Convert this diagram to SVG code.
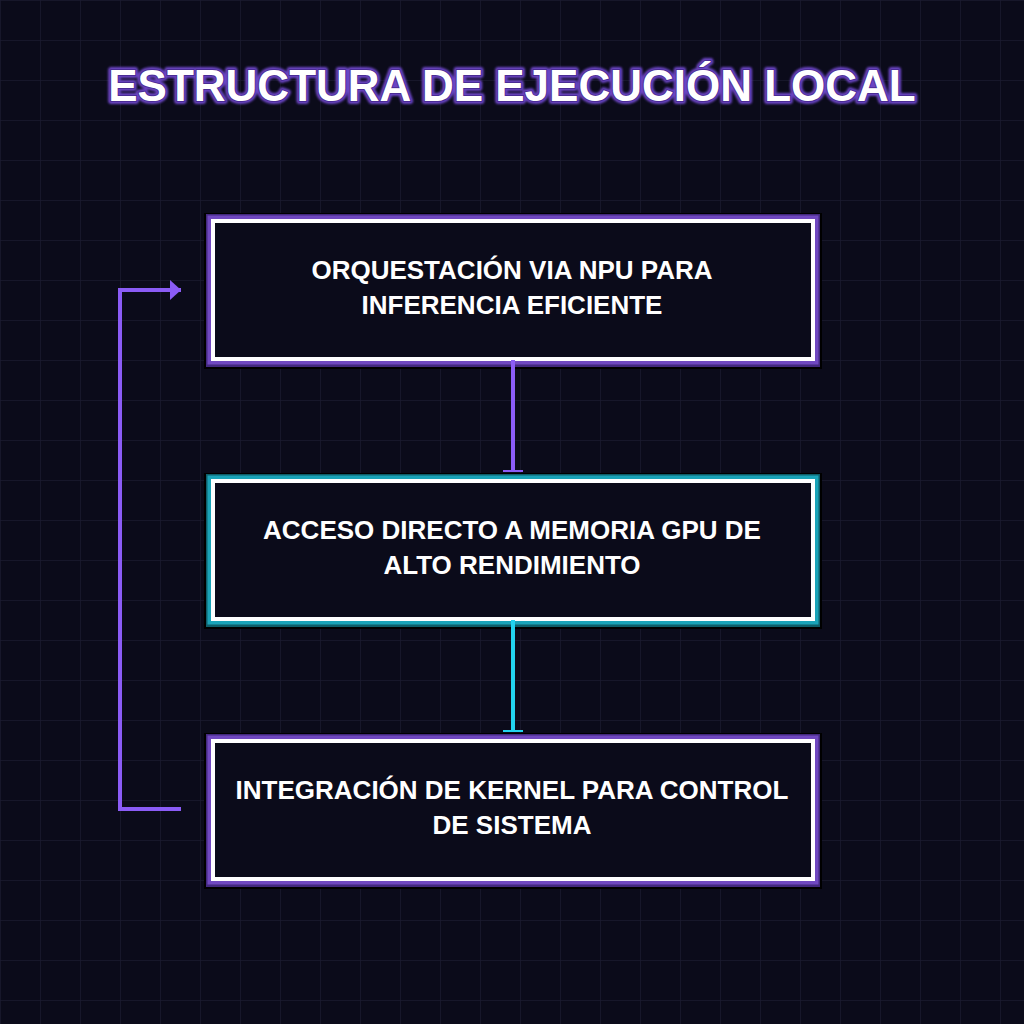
<svg xmlns="http://www.w3.org/2000/svg" width="1024" height="1024" viewBox="0 0 1024 1024">
  <defs>
    <pattern id="grid" width="40" height="40" patternUnits="userSpaceOnUse">
      <path d="M40 0H0V40" fill="none" stroke="#1a1a30" stroke-width="1.5"/>
    </pattern>
    <filter id="glow" x="-10%" y="-50%" width="120%" height="200%">
      <feGaussianBlur stdDeviation="1.2"/>
    </filter>
    <marker id="arrowP" markerWidth="12" markerHeight="20" refX="11" refY="10" orient="auto" markerUnits="userSpaceOnUse">
      <path d="M0 0L11 10L0 20Z" fill="#8b5cf6"/>
    </marker>
  </defs>
  <style>
    .bg{fill:#0b0b1a}
    .shadow{fill:none;stroke:#000;stroke-width:16}
    .glow-dark{fill:none;stroke-width:10}
    .glow-light{fill:none;stroke-width:7}
    .inner{fill:#0b0b1a;stroke:#fff;stroke-width:4}
    .purple .glow-dark{stroke:#43297f}
    .purple .glow-light{stroke:#7048c0}
    .cyan .glow-dark{stroke:#0e5e6a}
    .cyan .glow-light{stroke:#1aa3b8}
    .label{font-family:"Liberation Sans",Arial,sans-serif;font-weight:bold;font-size:26px;fill:#fff;text-anchor:middle}
    .title{font-family:"Liberation Sans",Arial,sans-serif;font-weight:bold;font-size:44px;text-anchor:middle}
  </style>
  <rect class="bg" width="1024" height="1024"/>
  <rect width="1024" height="1024" fill="url(#grid)"/>

  <g id="title">
    <text class="title" x="512" y="101" fill="none" stroke="#6b45c4" stroke-width="6" stroke-linejoin="round" filter="url(#glow)">ESTRUCTURA DE EJECUCIÓN LOCAL</text>
    <text class="title" x="512" y="101" fill="#fff" stroke="#4a2c95" stroke-width="2" paint-order="stroke">ESTRUCTURA DE EJECUCIÓN LOCAL</text>
  </g>

  <g id="node1" class="purple">
    <rect class="shadow" x="212" y="221" width="602" height="140"/>
    <rect class="glow-dark" x="211" y="219" width="604" height="143"/>
    <rect class="glow-light" x="211" y="219" width="604" height="142"/>
    <rect class="inner" x="213" y="221" width="600" height="138"/>
    <text class="label" x="512" y="279">ORQUESTACIÓN VIA NPU PARA</text>
    <text class="label" x="512" y="314">INFERENCIA EFICIENTE</text>
  </g>

  <g id="node2" class="cyan">
    <rect class="shadow" x="212" y="481" width="602" height="140"/>
    <rect class="glow-dark" x="211" y="479" width="604" height="143"/>
    <rect class="glow-light" x="211" y="479" width="604" height="142"/>
    <rect class="inner" x="213" y="481" width="600" height="138"/>
    <text class="label" x="512" y="539">ACCESO DIRECTO A MEMORIA GPU DE</text>
    <text class="label" x="512" y="574">ALTO RENDIMIENTO</text>
  </g>

  <g id="node3" class="purple">
    <rect class="shadow" x="212" y="741" width="602" height="140"/>
    <rect class="glow-dark" x="211" y="739" width="604" height="143"/>
    <rect class="glow-light" x="211" y="739" width="604" height="142"/>
    <rect class="inner" x="213" y="741" width="600" height="138"/>
    <text class="label" x="512" y="799">INTEGRACIÓN DE KERNEL PARA CONTROL</text>
    <text class="label" x="512" y="834">DE SISTEMA</text>
  </g>

  <g id="connectors" fill="none" stroke-width="4">
    <line x1="513" y1="360" x2="513" y2="471" stroke="#8b5cf6"/>
    <line x1="503" y1="471" x2="523" y2="471" stroke="#8b5cf6" stroke-width="2"/>
    <line x1="513" y1="620" x2="513" y2="731" stroke="#22d3ee"/>
    <line x1="503" y1="731" x2="523" y2="731" stroke="#22d3ee" stroke-width="2"/>
    <path d="M181 809H120V290H181" stroke="#8b5cf6" marker-end="url(#arrowP)"/>
  </g>
</svg>
